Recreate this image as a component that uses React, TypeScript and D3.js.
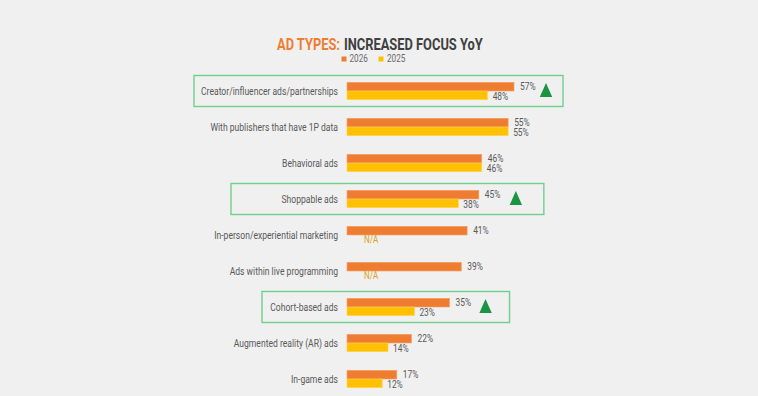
import React from "react";
import * as d3 from "d3";

const categories = [
  "Creator/influencer ads/partnerships",
  "With publishers that have 1P data",
  "Behavioral ads",
  "Shoppable ads",
  "In-person/experiential marketing",
  "Ads within live programming",
  "Cohort-based ads",
  "Augmented reality (AR) ads",
  "In-game ads",
];
const values2026: (number | null)[] = [57, 55, 46, 45, 41, 39, 35, 22, 17];
const values2025: (number | null)[] = [48, 55, 46, 38, null, null, 23, 14, 12];
const seriesNames = ["2026", "2025"];
const highlighted = ["Creator/influencer ads/partnerships", "Shoppable ads", "Cohort-based ads"];
// layout of highlight boxes
const boxLeft: Record<string, number> = {
  "Creator/influencer ads/partnerships": 194,
  "Shoppable ads": 231,
  "Cohort-based ads": 262,
};
const triOffset: Record<string, number> = {
  "Creator/influencer ads/partnerships": 32,
  "Shoppable ads": 37,
  "Cohort-based ads": 36,
};
const boxRightPad: Record<string, number> = {
  "Creator/influencer ads/partnerships": 17,
  "Shoppable ads": 28,
  "Cohort-based ads": 24,
};

const W = 758;
const H = 396;
const ORANGE = "#ef7d31";
const YELLOW = "#ffc000";
const TEXT = "#595959";
const FONT = "Roboto, sans-serif";

function CText(props: {
  x: number; y: number; anchor?: string; size: number; fill: string; weight?: string | number; sq?: number; children: React.ReactNode;
}) {
  const { x, y, anchor = "start", size, fill, weight = 400, sq = 0.78, children } = props;
  return (
    <text
      transform={`translate(${x},${y}) scale(${sq},1)`}
      textAnchor={anchor}
      fontSize={size}
      fill={fill}
      fontWeight={weight}
      fontFamily={FONT}
    >
      {children}
    </text>
  );
}

export default function App() {
  const x = d3.scaleLinear().domain([0, 100]).range([347, 640]);
  const y = d3.scaleBand().domain(categories).range([73, 73 + 36 * categories.length]).padding(0);
  const bh = 8.7;

  return (
    <svg
      width={W}
      height={H}
      style={{ position: "absolute", left: 0, top: 0, display: "block", background: "#f0f0f0" }}
    >
      <rect x={0} y={0} width={W} height={H} fill="#f0f0f0" />
      {/* title */}
      <CText x={277} y={49.5} size={16.5} fill={ORANGE} weight={700}>AD TYPES:</CText>
      <CText x={344} y={49.5} size={16.5} fill="#404040" weight={700}>INCREASED FOCUS YoY</CText>
      {/* legend */}
      <rect x={341.5} y={56.5} width={5} height={5} fill={ORANGE} />
      <CText x={349.5} y={62} size={10.5} fill="#6a6a6a">{seriesNames[0]}</CText>
      <rect x={378.5} y={56.5} width={5} height={5} fill={YELLOW} />
      <CText x={387} y={62} size={10.5} fill="#6a6a6a">{seriesNames[1]}</CText>

      {categories.map((c, i) => {
        const split = (y(c) as number) + y.bandwidth() / 2;
        const v1 = values2026[i];
        const v2 = values2025[i];
        const hl = highlighted.includes(c);
        const maxV = Math.max(v1 ?? 0, v2 ?? 0);
        const tx = x(maxV) + (triOffset[c] ?? 35);
        return (
          <g key={c}>
            {hl && (
              <rect
                x={boxLeft[c]}
                y={split - 15.5}
                width={tx + (boxRightPad[c] ?? 18) - boxLeft[c]}
                height={31}
                fill="none"
                stroke="#6fcf8e"
                strokeWidth={1.4}
              />
            )}
            {hl && (
              <path
                d={`M${tx},${split - 8} L${tx + 6.2},${split + 6} L${tx - 6.2},${split + 6} Z`}
                fill="#1b9443"
              />
            )}
            <CText x={338} y={split + 4} anchor="end" size={11} fill={TEXT}>{c}</CText>
            {v1 != null && (
              <>
                <rect x={x(0)} y={split - bh} width={x(v1) - x(0)} height={bh} fill={ORANGE} stroke="#f5a06a" strokeWidth={0.6} />
                <CText x={x(v1) + 6} y={split - 0.7} size={10.5} sq={0.8} fill={TEXT}>{`${v1}%`}</CText>
              </>
            )}
            {v2 != null ? (
              <>
                <rect x={x(0)} y={split} width={x(v2) - x(0)} height={bh} fill={YELLOW} stroke="#ffd45c" strokeWidth={0.6} />
                <CText x={x(v2) + 5} y={split + 8.8} size={10.5} sq={0.8} fill={TEXT}>{`${v2}%`}</CText>
              </>
            ) : (
              <CText x={x(0) + 17} y={split + 8} size={10} sq={0.8} fill="#d9a21a">N/A</CText>
            )}
          </g>
        );
      })}
    </svg>
  );
}
